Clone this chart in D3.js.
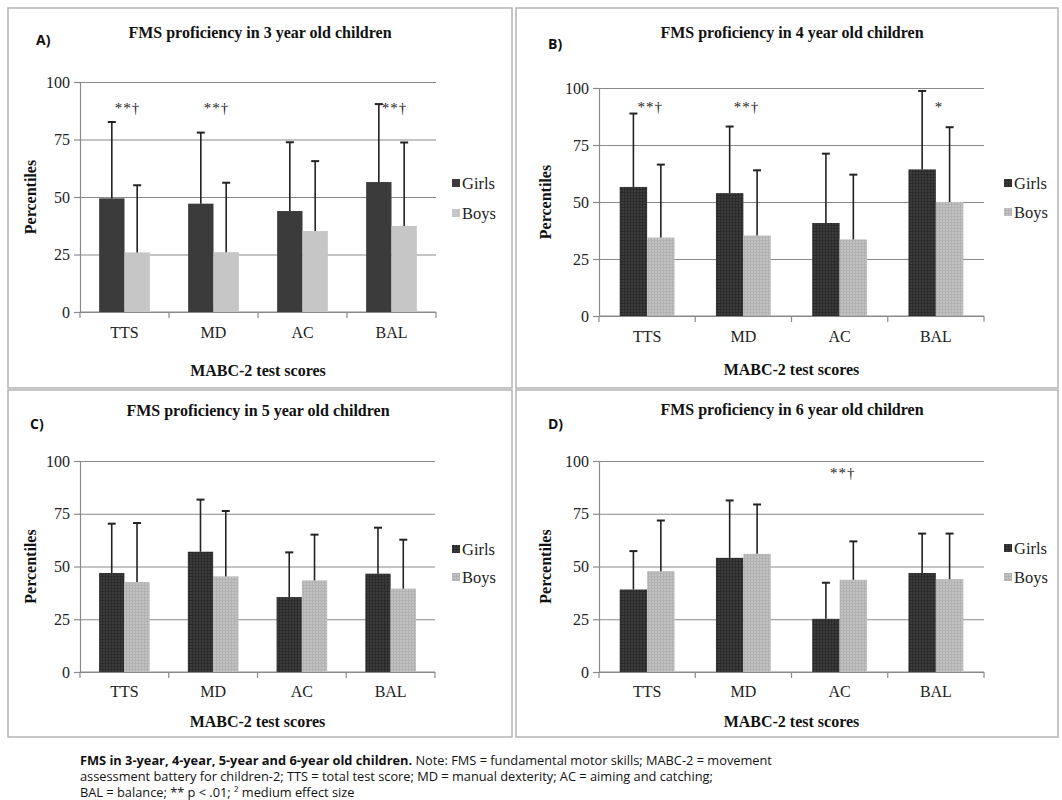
<!DOCTYPE html>
<html>
<head>
<meta charset="utf-8">
<script src="https://cdn.jsdelivr.net/npm/d3@7"></script>
<style>
  body { margin: 0; background: #fff; }
  svg { display: block; }
  .tick text { font-family: 'Liberation Serif', 'Times New Roman', serif; font-size: 16px; fill: #222; }
  .grid line { stroke: #8a8a8a; stroke-width: 1.2; }
  .grid .domain { display: none; }
  .yaxis .domain, .yaxis line { stroke: #8a8a8a; stroke-width: 1.2; }
  .title, .axis-title { font-family: 'Liberation Serif', serif; font-weight: bold; font-size: 16px; fill: #111; }
  .legend text { font-family: 'Liberation Serif', serif; font-size: 16.5px; fill: #222; }
  .panel-label { font-family: 'Open Sans', sans-serif; font-weight: bold; font-size: 14px; fill: #111; }
  .sig { font-family: 'Liberation Serif', serif; font-size: 15px; letter-spacing: 1px; fill: #222; }
  .caption { font-family: 'Open Sans', sans-serif; font-size: 12.8px; fill: #111; }
</style>
</head>
<body>
<svg width="1062" height="800"></svg>
<script>
const categories = ['TTS', 'MD', 'AC', 'BAL'];
const series = ['Girls', 'Boys'];
const yTicks = [0, 25, 50, 75, 100];

const girls3 = [49.4, 47.1, 43.9, 56.5];
const girls3Sd = [33.2, 30.9, 29.9, 33.9];
const boys3 = [25.9, 26.0, 35.2, 37.4];
const boys3Sd = [29.2, 30.2, 30.4, 36.3];

const girls4 = [56.6, 53.9, 40.8, 64.3];
const girls4Sd = [32.2, 29.2, 30.4, 34.4];
const boys4 = [34.4, 35.3, 33.6, 50.0];
const boys4Sd = [32.0, 28.6, 28.4, 32.8];

const girls5 = [46.9, 57.0, 35.5, 46.6];
const girls5Sd = [23.4, 24.7, 21.2, 21.8];
const boys5 = [42.6, 45.3, 43.4, 39.5];
const boys5Sd = [28.0, 31.0, 21.7, 23.2];

const girls6 = [39.1, 54.1, 25.2, 46.9];
const girls6Sd = [18.2, 27.2, 17.1, 18.7];
const boys6 = [47.8, 56.0, 43.7, 44.0];
const boys6Sd = [24.0, 23.4, 18.2, 21.6];

const sig3 = ['**†', '**†', '', '**†'];
const sig4 = ['**†', '**†', '', '*'];
const sig5 = ['', '', '', ''];
const sig6 = ['', '', '**†', ''];

const captionLines = [
  [['FMS in 3-year, 4-year, 5-year and 6-year old children.', true], [' Note: FMS = fundamental motor skills; MABC-2 = movement', false]],
  [['assessment battery for children-2; TTS = total test score; MD = manual dexterity; AC = aiming and catching;', false]],
  [['BAL = balance; ** p < .01; ² medium effect size', false]]
];

const panels = [
  {label: 'A)', title: 'FMS proficiency in 3 year old children', girls: girls3, girlsSd: girls3Sd, boys: boys3, boysSd: boys3Sd, sig: sig3,
   box: [8, 8, 504, 380], x: [80, 436], y: [312, 82], sigY: 89, pattern: false, titleX: 260, titleY: 38, labelX: 36, labelY: 45,
   catY: 338, axisTitleY: 376, yTitleX: 36, legX: 452, legY: [183, 213]},
  {label: 'B)', title: 'FMS proficiency in 4 year old children', girls: girls4, girlsSd: girls4Sd, boys: boys4, boysSd: boys4Sd, sig: sig4,
   box: [516, 8, 542, 380], x: [599, 984], y: [316, 88], sigY: 92, pattern: true, titleX: 792, titleY: 38, labelX: 548, labelY: 49,
   catY: 342, axisTitleY: 375, yTitleX: 551, legX: 1004, legY: [183, 212]},
  {label: 'C)', title: 'FMS proficiency in 5 year old children', girls: girls5, girlsSd: girls5Sd, boys: boys5, boysSd: boys5Sd, sig: sig5,
   box: [8, 390, 504, 347], x: [80, 435], y: [672, 461], sigY: 95, pattern: true, titleX: 258, titleY: 416, labelX: 30, labelY: 429,
   catY: 697, axisTitleY: 727, yTitleX: 36, legX: 452, legY: [549, 577]},
  {label: 'D)', title: 'FMS proficiency in 6 year old children', girls: girls6, girlsSd: girls6Sd, boys: boys6, boysSd: boys6Sd, sig: sig6,
   box: [516, 390, 542, 347], x: [599, 984], y: [672, 461], sigY: 95, pattern: true, titleX: 792, titleY: 415, labelX: 548, labelY: 429,
   catY: 697, axisTitleY: 727, yTitleX: 551, legX: 1004, legY: [548, 577]}
];

const colors = {Girls: '#3b3b3b', Boys: '#c6c6c6'};

const svg = d3.select('svg');

// faint checker texture used in panels B-D
const defs = svg.append('defs');
[['Girls', '#3b3b3b', '#2c2c2c'], ['Boys', '#c2c2c2', '#b2b2b2']].forEach(([name, base, line]) => {
  const p = defs.append('pattern')
    .attr('id', 'pat-' + name)
    .attr('width', 3).attr('height', 3)
    .attr('patternUnits', 'userSpaceOnUse');
  p.append('rect').attr('width', 3).attr('height', 3).attr('fill', base);
  p.append('path').attr('d', 'M0,0.5H3M0.5,0V3').attr('stroke', line).attr('stroke-width', 1);
});

panels.forEach(pn => {
  const g = svg.append('g');

  g.append('rect')
    .attr('x', pn.box[0]).attr('y', pn.box[1])
    .attr('width', pn.box[2]).attr('height', pn.box[3])
    .attr('fill', 'none').attr('stroke', '#b4b4b4').attr('stroke-width', 1.5);

  const yScale = d3.scaleLinear().domain([0, 100]).range(pn.y);
  const xScale = d3.scaleBand().domain(categories).range(pn.x)
    .paddingInner(0.43).paddingOuter(0.215);
  const sub = d3.scaleBand().domain(series).range([0, xScale.bandwidth()]);
  const w = pn.x[1] - pn.x[0];

  g.append('g')
    .attr('class', 'grid')
    .attr('transform', `translate(${pn.x[0]},0)`)
    .call(d3.axisLeft(yScale).tickValues(yTicks).tickSize(-w).tickFormat(''));

  g.append('g')
    .attr('class', 'yaxis')
    .attr('transform', `translate(${pn.x[0]},0)`)
    .call(d3.axisLeft(yScale).tickValues(yTicks).tickSize(6).tickSizeOuter(0).tickPadding(4));

  // x axis line with ticks on category boundaries
  g.append('line')
    .attr('x1', pn.x[0]).attr('x2', pn.x[1])
    .attr('y1', yScale(0)).attr('y2', yScale(0))
    .attr('stroke', '#8a8a8a').attr('stroke-width', 1.2);
  const bounds = categories.map(c => xScale(c) - xScale.step() * xScale.paddingInner() / 2);
  bounds[0] = pn.x[0];
  bounds.push(pn.x[1]);
  g.selectAll('.xb').data(bounds).join('line')
    .attr('x1', d => d).attr('x2', d => d)
    .attr('y1', yScale(0)).attr('y2', yScale(0) + 6)
    .attr('stroke', '#8a8a8a').attr('stroke-width', 1.2);

  g.selectAll('.cat').data(categories).join('text')
    .attr('x', d => xScale(d) + xScale.bandwidth() / 2)
    .attr('y', pn.catY)
    .attr('text-anchor', 'middle')
    .style('font-family', "'Liberation Serif', serif").style('font-size', '16px').style('fill', '#222')
    .text(d => d);

  const rows = [];
  categories.forEach((c, i) => {
    rows.push({cat: c, s: 'Girls', v: pn.girls[i], sd: pn.girlsSd[i]});
    rows.push({cat: c, s: 'Boys', v: pn.boys[i], sd: pn.boysSd[i]});
  });

  g.selectAll('.bar').data(rows).join('rect')
    .attr('x', d => xScale(d.cat) + sub(d.s))
    .attr('y', d => yScale(d.v))
    .attr('width', sub.bandwidth())
    .attr('height', d => yScale(0) - yScale(d.v))
    .attr('fill', d => pn.pattern ? `url(#pat-${d.s})` : colors[d.s]);

  const cx = d => xScale(d.cat) + sub(d.s) + sub.bandwidth() / 2;
  g.selectAll('.err').data(rows).join('line')
    .attr('x1', cx).attr('x2', cx)
    .attr('y1', d => yScale(d.v))
    .attr('y2', d => yScale(d.v + d.sd))
    .attr('stroke', '#222').attr('stroke-width', 1.6);
  g.selectAll('.cap').data(rows).join('line')
    .attr('x1', d => cx(d) - 4).attr('x2', d => cx(d) + 4)
    .attr('y1', d => yScale(d.v + d.sd))
    .attr('y2', d => yScale(d.v + d.sd))
    .attr('stroke', '#222').attr('stroke-width', 2);

  g.selectAll('.sig').data(categories).join('text')
    .attr('class', 'sig')
    .attr('x', d => xScale(d) + xScale.bandwidth() / 2 + 3)
    .attr('y', yScale(pn.sigY) + 6)
    .attr('text-anchor', 'middle')
    .text((d, i) => pn.sig[i]);

  g.append('text').attr('class', 'title')
    .attr('x', pn.titleX).attr('y', pn.titleY)
    .attr('text-anchor', 'middle').text(pn.title);

  g.append('text').attr('class', 'panel-label')
    .attr('x', pn.labelX).attr('y', pn.labelY).text(pn.label);

  g.append('text').attr('class', 'axis-title')
    .attr('x', (pn.x[0] + pn.x[1]) / 2).attr('y', pn.axisTitleY)
    .attr('text-anchor', 'middle').text('MABC-2 test scores');

  g.append('text').attr('class', 'axis-title')
    .attr('transform', `translate(${pn.yTitleX},${(pn.y[0] + pn.y[1]) / 2}) rotate(-90)`)
    .attr('text-anchor', 'middle').text('Percentiles');

  const leg = g.append('g').attr('class', 'legend');
  series.forEach((s, i) => {
    leg.append('rect')
      .attr('x', pn.legX).attr('y', pn.legY[i] - 4)
      .attr('width', 8).attr('height', 8)
      .attr('fill', pn.pattern ? `url(#pat-${s})` : colors[s]);
    leg.append('text')
      .attr('x', pn.legX + 10).attr('y', pn.legY[i] + 5.5)
      .text(s);
  });
});

const cap = svg.append('g');
captionLines.forEach((line, i) => {
  const t = cap.append('text').attr('class', 'caption')
    .attr('x', 80).attr('y', 765 + i * 16);
  line.forEach(([str, bold]) => {
    t.append('tspan').attr('font-weight', bold ? 'bold' : 'normal').text(str);
  });
});
</script>
</body>
</html>
